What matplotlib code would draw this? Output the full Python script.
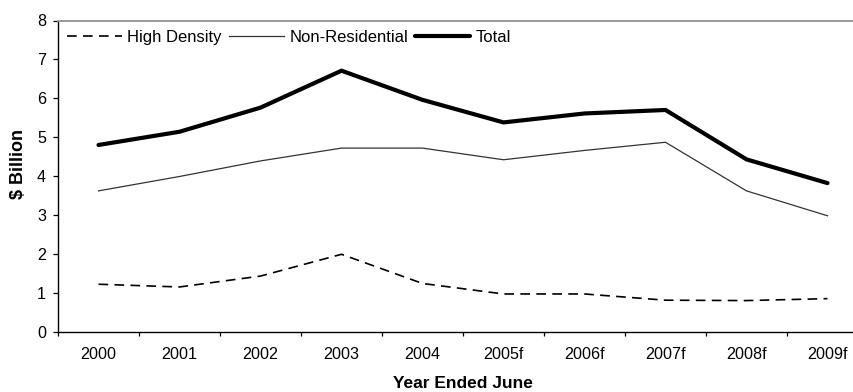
import numpy as np
import matplotlib.pyplot as plt

plt.rcParams['font.family'] = ['Liberation Sans', 'DejaVu Sans']
plt.rcParams['lines.scale_dashes'] = False

years = ['2000', '2001', '2002', '2003', '2004', '2005f', '2006f', '2007f', '2008f', '2009f']
high_density = [1.22, 1.15, 1.43, 1.99, 1.24, 0.97, 0.97, 0.81, 0.80, 0.85]
non_residential = [3.62, 3.99, 4.39, 4.72, 4.72, 4.42, 4.66, 4.87, 3.62, 2.98]
total = [4.80, 5.14, 5.76, 6.71, 5.96, 5.38, 5.61, 5.70, 4.43, 3.82]

W, H = 854, 392
fig = plt.figure(figsize=(W / 100, H / 100), dpi=100)
# plot area runs a little past the right edge of the figure
ax = fig.add_axes([58 / W, (H - 331.7) / H, 810 / W, 311.2 / H])

x = np.arange(len(years))
ax.plot(x, high_density, color='black', lw=1.2, dashes=(7, 4.5), label='High Density')
ax.plot(x, non_residential, color='#333333', lw=0.9, label='Non-Residential')
ax.plot(x, total, color='black', lw=3.0, solid_capstyle='round', label='Total')

ax.set_xlim(-0.5, len(years) - 0.5)
ax.set_ylim(0, 8)
ax.set_yticks(range(0, 9))
ax.set_xticks(x)
ax.set_xticklabels(years)
ax.set_xticks(np.arange(-0.5, len(years), 1), minor=True)
ax.tick_params(axis='x', which='major', length=0, pad=11, labelsize=11.6)
ax.tick_params(axis='x', which='minor', length=3, width=0.9, direction='out')
ax.tick_params(axis='y', length=3.6, width=0.9, pad=5, labelsize=11.6)

for side in ('left', 'bottom'):
    ax.spines[side].set_color('black')
    ax.spines[side].set_linewidth(1.0)
ax.spines['top'].set_color('#999999')
ax.spines['top'].set_linewidth(1.4)
ax.spines['right'].set_visible(False)

ax.set_xlabel('Year Ended June', fontsize=12.5, fontweight='heavy', va='center')
ax.xaxis.set_label_coords(0.5, -(383 - 331.7) / 311.2)
ax.set_ylabel('$ Billion', fontsize=13, fontweight='heavy', va='center')
ax.yaxis.set_label_coords(-40 / 810, 0.54)

ax.legend(loc='upper left', bbox_to_anchor=(0.0, 1.0), ncol=3, frameon=False,
          fontsize=12, handlelength=3.3, handletextpad=0.3, columnspacing=0.45,
          borderaxespad=0.25, borderpad=0.3)

fig.savefig('out.png', dpi=100)
